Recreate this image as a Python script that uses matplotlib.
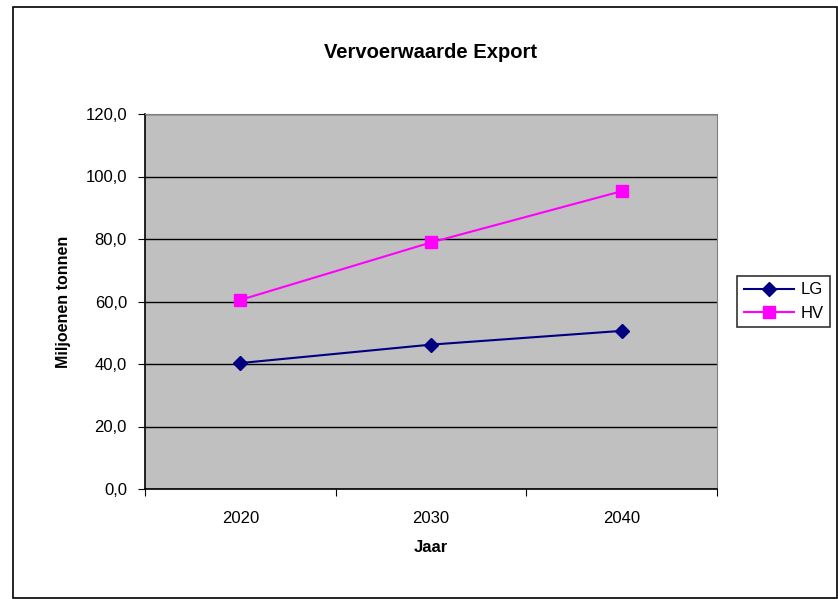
import matplotlib.pyplot as plt
from matplotlib.patches import Rectangle
from matplotlib.ticker import FixedLocator, FuncFormatter

# --------------------------
# DATA
# --------------------------
years = ['2020', '2030', '2040']
lg = [40.3, 46.2, 50.6]
hv = [60.5, 78.9, 95.3]

plt.rcParams['font.family'] = ['Liberation Sans', 'DejaVu Sans']

fig = plt.figure(figsize=(8.38, 5.99), dpi=100)
fig.patches.append(Rectangle((13 / 838, 1 - 598 / 599), 824 / 838, 591 / 599,
                             transform=fig.transFigure, fill=False,
                             edgecolor='black', linewidth=1.2))

ax = fig.add_axes([145 / 838, 1 - 489 / 599, 572 / 838, 375 / 599])
ax.set_facecolor('#c0c0c0')

x = range(len(years))
ax.plot(x, lg, color='#000080', marker='D', markersize=7, linewidth=1.5, label='LG')
ax.plot(x, hv, color='#ff00ff', marker='s', markersize=9, linewidth=1.5, label='HV')

ax.set_xlim(-0.5, len(years) - 0.5)
ax.set_ylim(0, 120)
ax.set_yticks(range(0, 121, 20))
ax.yaxis.set_major_formatter(FuncFormatter(lambda v, p: f'{v:.1f}'.replace('.', ',')))
ax.grid(axis='y', color='black', linewidth=1)
ax.set_axisbelow(True)

# category axis: ticks between categories, labels centred
ax.xaxis.set_major_locator(FixedLocator([i - 0.5 for i in range(len(years) + 1)]))
ax.xaxis.set_major_formatter(FuncFormatter(lambda v, p: ''))
ax.xaxis.set_minor_locator(FixedLocator(list(x)))
ax.set_xticklabels(years, minor=True)
ax.tick_params(axis='x', which='minor', length=0, pad=16, labelsize=12)
ax.tick_params(axis='x', which='major', length=5, direction='out', color='black')
ax.tick_params(axis='y', length=5, direction='out', labelsize=12, color='black', pad=8)

for side in ['top', 'right']:
    ax.spines[side].set_color('#808080')
for side in ['left', 'bottom']:
    ax.spines[side].set_color('black')
    ax.spines[side].set_linewidth(1.2)

ax.set_title('Vervoerwaarde Export', fontsize=14.5, fontweight='bold', pad=40)
ax.set_xlabel('Jaar', fontsize=12, fontweight='bold', labelpad=10)
ax.set_ylabel('Miljoenen tonnen', fontsize=11.5, fontweight='bold', labelpad=10)

leg = ax.legend(loc='center left', bbox_to_anchor=(1.035, 0.5), frameon=True,
                fancybox=False, edgecolor='black', fontsize=12, borderaxespad=0,
                handlelength=3.0, handletextpad=0.4, borderpad=0.4, labelspacing=0.5)
leg.get_frame().set_linewidth(1.2)

fig.savefig('out.png', dpi=100)
